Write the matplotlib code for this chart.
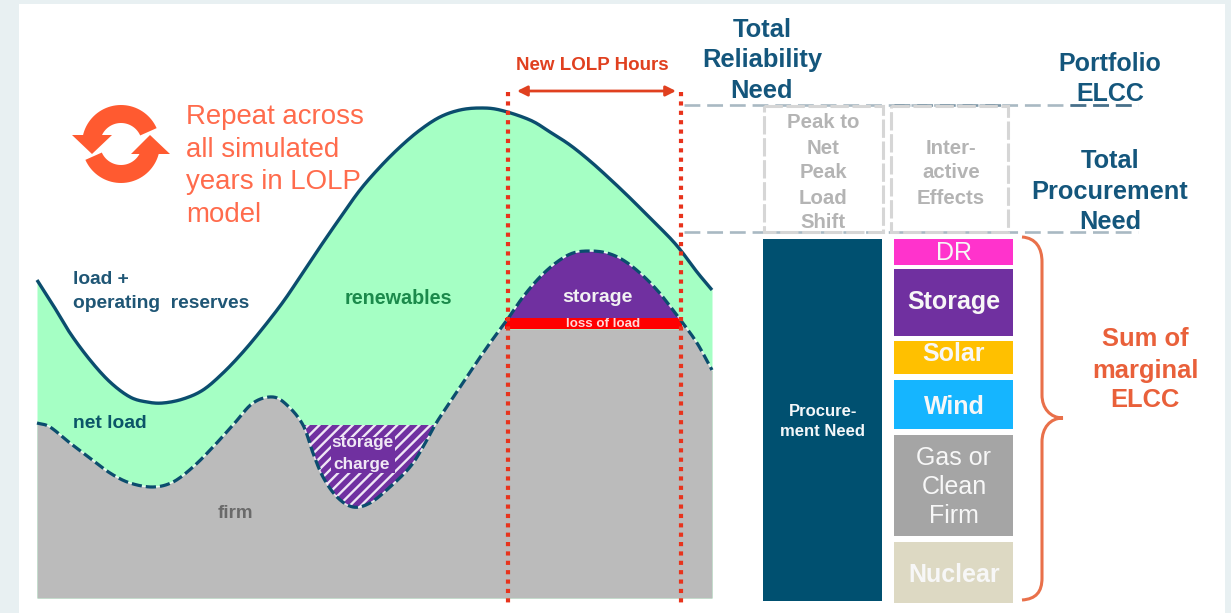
import numpy as np
import matplotlib
matplotlib.use("Agg")
import matplotlib.pyplot as plt
from matplotlib.patches import Rectangle, PathPatch, Polygon
from matplotlib.path import Path

plt.rcParams['font.family'] = ['Liberation Sans', 'DejaVu Sans']
plt.rcParams['hatch.linewidth'] = 1.7

# Curve readings on the diagram's canvas scale (x to the right, y downward)
load_x = [37, 53, 70, 90, 110, 130, 147, 163, 183, 203, 223, 243, 263, 283, 300, 320, 340, 360, 380, 400, 420, 440, 460, 480, 500, 530, 550, 570, 590, 610, 630, 650, 670, 682, 697, 712]
load_y = [280, 305, 333, 360, 382, 397, 402, 403, 399, 390, 373, 352, 328, 302, 277, 247, 218, 190, 167, 147, 130, 117, 110, 108, 110, 120, 132, 145, 161, 179, 198, 218, 238, 252, 272, 290]

net_x = [37, 50, 70, 90, 110, 130, 153, 173, 193, 213, 233, 253, 273, 288, 303, 313, 323, 337, 353, 370, 390, 410, 423, 435, 450, 470, 490, 507, 523, 540, 557, 573, 590, 607, 623, 640, 657, 673, 682, 697, 712]
net_y = [423, 427, 443, 458, 473, 483, 487, 482, 467, 447, 425, 403, 397, 406, 425, 453, 477, 497, 507, 503, 487, 467, 447, 425, 402, 372, 343, 320, 297, 277, 262, 253, 251, 253, 260, 273, 290, 310, 322, 343, 370]

lolp_start, lolp_end = 508, 681
chart_bottom = 598
loss_top, loss_bottom = 318, 329
charge_level = 425

# Stacked capacity columns: (label, top, bottom, colour)
need_column = (763, 882, 239, 601)
resource_names = ["DR", "Storage", "Solar", "Wind", "Gas or\nClean\nFirm", "Nuclear"]
resource_tops = [239, 269, 341, 380, 435, 542]
resource_bottoms = [265, 336, 374, 429, 536, 603]
resource_colors = ["#FF33CC", "#7030A0", "#FFC000", "#15B5FF", "#A5A5A5", "#DDD9C3"]
resource_label_y = [251, 300, 352, 405, 485, 573]
resource_weights = ["normal", "bold", "bold", "bold", "normal", "bold"]

NAVY = "#0B4D6E"
CORAL = "#FF6B4C"
RED = "#E8331C"


def smooth(xs, ys, per_span=16):
    """Catmull-Rom curve through the given readings."""
    p = np.column_stack([xs, ys]).astype(float)
    p = np.vstack([2 * p[0] - p[1], p, 2 * p[-1] - p[-2]])
    t = np.linspace(0, 1, per_span, endpoint=False)[:, None]
    out = []
    for i in range(1, len(p) - 2):
        a, b, c, d = p[i - 1], p[i], p[i + 1], p[i + 2]
        out.append(0.5 * (2 * b + (c - a) * t + (2 * a - 5 * b + 4 * c - d) * t ** 2
                          + (3 * b - a - 3 * c + d) * t ** 3))
    out.append(p[-2][None, :])
    out = np.vstack(out)
    return out[:, 0], out[:, 1]


fig = plt.figure(figsize=(12.31, 6.13), dpi=100, facecolor="#E8F0F2")
ax = fig.add_axes([0, 0, 1, 1])
ax.set_xlim(0, 1231)
ax.set_ylim(613, 0)
ax.axis("off")
ax.add_patch(Rectangle((19, 4), 1206, 609, fc="white", ec="none", zorder=0))

lx, ly = smooth(load_x, load_y)
nx, ny = smooth(net_x, net_y)
grid = np.arange(37, 712.5, 0.5)
load_g = np.interp(grid, lx, ly)
net_g = np.interp(grid, nx, ny)

# Stacked areas under the load curve
ax.fill_between(grid, load_g, chart_bottom, color="#A5FFC4", lw=0, zorder=1)
in_lolp = (grid >= lolp_start - 3) & (grid <= lolp_end + 1)
firm_top = np.where(in_lolp, np.maximum(net_g, loss_bottom), net_g)
ax.fill_between(grid, firm_top, chart_bottom, color="#BBBBBB", lw=0, zorder=2)

# Storage discharge and the loss-of-load band inside the LOLP window
ax.fill_between(grid, net_g, loss_top, where=in_lolp & (net_g < loss_top),
                color="#7030A0", lw=0, zorder=3)
ax.fill_between(grid, loss_top, loss_bottom, where=in_lolp, color="#FF0000", lw=0, zorder=3)

# Storage charging pocket
charging = (grid > 290) & (grid < 450) & (net_g > charge_level)
ax.fill_between(grid, charge_level, net_g, where=charging, facecolor="#7030A0",
                edgecolor="#EFE6F5", hatch="///", lw=0, zorder=3)
ax.add_patch(Rectangle((331, 437), 64, 36, fc="#7030A0", ec="none", zorder=3.5))

# Curves
ax.plot(nx, ny, color="white", lw=1.1, alpha=0.75, zorder=4)
ax.plot(nx, ny, color=NAVY, lw=2.3, dashes=(3.2, 1.25), zorder=5)
ax.plot(lx, ly, color=NAVY, lw=2.4, zorder=5, solid_capstyle="butt")

# Reference levels and dashed outline boxes
for y in (105, 232):
    ax.plot([684, 1138], [y, y], color="#A9B9C3", lw=1.9, dashes=(6, 2.6), zorder=2)
ax.plot([1070, 1138], [105, 105], color="#47708A", lw=1.9, dashes=(6, 2.6), zorder=2)
ax.plot([894, 1007], [105, 105], color="#7F98A8", lw=1.9, dashes=(6, 2.6), zorder=2)
for x0, x1 in ((764, 883), (891, 1008)):
    ax.add_patch(Rectangle((x0, 106), x1 - x0, 126, fc="none", ec="#D6D6D6", lw=2.2,
                           ls=(0, (6, 1.2)), zorder=2))

# LOLP window markers
for x in (lolp_start, lolp_end):
    ax.plot([x, x], [92, 603], color=RED, lw=3, ls=(0, (1, 1.25)), zorder=6)
ax.annotate("", xy=(517, 91), xytext=(676, 91),
            arrowprops=dict(arrowstyle="<|-|>", color="#E0401F", lw=2, mutation_scale=15,
                            shrinkA=0, shrinkB=0), zorder=6)

# Repeat icon: two curved arrows around a common centre
cx, cy, r_out, r_in = 121, 144, 39, 21


def band(a0, a1):
    ang = np.radians(np.linspace(a0, a1, 40))
    outer = np.column_stack([cx + r_out * np.cos(ang), cy - r_out * np.sin(ang)])
    inner = np.column_stack([cx + r_in * np.cos(ang[::-1]), cy - r_in * np.sin(ang[::-1])])
    return np.vstack([outer, inner])


ICON = "#FF5A30"
ax.add_patch(Polygon(band(24, 168), fc=ICON, ec="none", zorder=4))
ax.add_patch(Polygon(band(204, 348), fc=ICON, ec="none", zorder=4))
ax.add_patch(Polygon([(72, 135), (112, 135), (92, 154)], fc=ICON, ec="none", zorder=4))
ax.add_patch(Polygon([(170, 154), (131, 154), (150, 135)], fc=ICON, ec="none", zorder=4))

# Columns on the right
ax.add_patch(Rectangle((need_column[0], need_column[2]), need_column[1] - need_column[0],
                       need_column[3] - need_column[2], fc="#005070", ec="none", zorder=3))
for top, bottom, color in zip(resource_tops, resource_bottoms, resource_colors):
    ax.add_patch(Rectangle((894, top), 119, bottom - top, fc=color, ec="none", zorder=3))

# Curly brace
BRACE = "#E9704A"
brace = Path(
    [(1022, 237), (1036, 238), (1042, 248), (1042, 262),
     (1042, 395), (1042, 408), (1050, 418), (1063, 418),
     (1050, 418), (1042, 428), (1042, 442),
     (1042, 578), (1042, 592), (1036, 599), (1022, 600)],
    [Path.MOVETO, Path.CURVE4, Path.CURVE4, Path.CURVE4,
     Path.LINETO, Path.CURVE4, Path.CURVE4, Path.CURVE4,
     Path.CURVE4, Path.CURVE4, Path.CURVE4,
     Path.LINETO, Path.CURVE4, Path.CURVE4, Path.CURVE4])
ax.add_patch(PathPatch(brace, fc="none", ec=BRACE, lw=2.2, zorder=3))


def label(x, y, s, size, color, weight="normal", ha="center"):
    ax.text(x, y + 2, s, fontsize=size, color=color, fontweight=weight, ha=ha, va="center", zorder=8)


for y, s in zip((115, 148, 180, 213), ("Repeat across", "all simulated", "years in LOLP", "model")):
    label(186, y, s, 19.9, CORAL, ha="left")
label(73, 277, "load +", 13.8, "#1F5675", "bold", "left")
label(73, 302, "operating  reserves", 13.8, "#1F5675", "bold", "left")
label(398, 296, "renewables", 14.2, "#1B8A4B", "bold")
label(73, 422, "net load", 13.9, "#0B5568", "bold", "left")
label(235, 511, "firm", 13.5, "#6A6A6A", "bold")
label(597, 296, "storage", 14, "#F2F2F2", "bold")
label(603, 322, "loss of load", 9.6, "#FFD8D8", "bold")
label(362, 441, "storage", 12.4, "#F0E8F5", "bold")
label(362, 463, "charge", 12.4, "#F0E8F5", "bold")
label(592, 64, "New LOLP Hours", 13.5, "#E0401F", "bold")

HEAD = "#14567C"
for y, s in zip((28, 58, 89), ("Total", "Reliability", "Need")):
    label(762, y, s, 18.4, HEAD, "bold")
for y, s in zip((62, 92), ("Portfolio", "ELCC")):
    label(1110, y, s, 18, HEAD, "bold")
for y, s in zip((159, 190, 220), ("Total", "Procurement", "Need")):
    label(1110, y, s, 18.3, HEAD, "bold")
for y, s in zip((120, 146, 171, 196, 221), ("Peak to", "Net", "Peak", "Load", "Shift")):
    label(823, y, s, 14.7, "#B4B4B4", "bold")
for y, s in zip((146, 171, 196), ("Inter-", "active", "Effects")):
    label(951, y, s, 14.7, "#B4B4B4", "bold")

label(823, 409, "Procure-", 12, "#F4F7F9", "bold")
label(823, 430, "ment Need", 12, "#F4F7F9", "bold")
for name, y, weight in zip(resource_names, resource_label_y, resource_weights):
    ax.text(954, y + 2, name, fontsize=18, color="#F7F7F7", fontweight=weight, ha="center",
            va="center", linespacing=1.27, zorder=8)
for y, s in zip((337, 369, 398), ("Sum of", "marginal", "ELCC")):
    label(1145, y, s, 18.4, "#E9603A", "bold")

fig.savefig("out.png", dpi=100, facecolor=fig.get_facecolor())
